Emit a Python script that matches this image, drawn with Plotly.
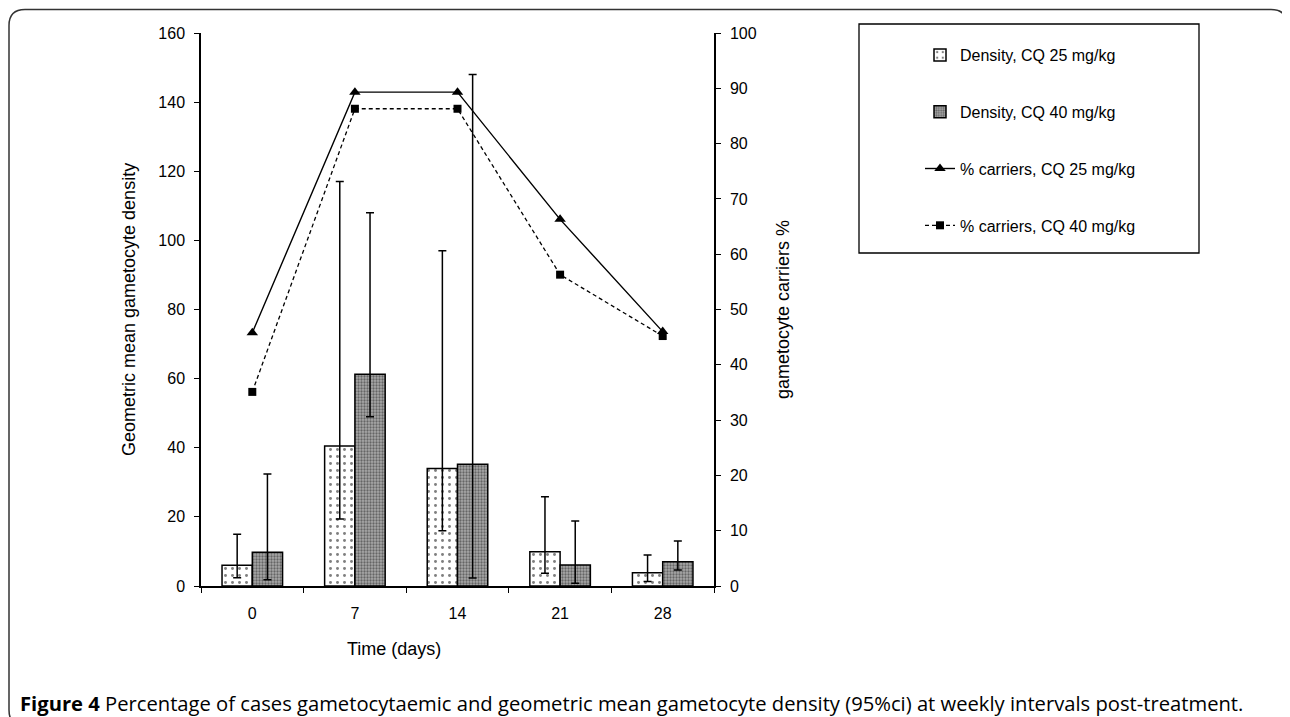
import plotly.graph_objects as go

# ---- data ----
days = ["0", "7", "14", "21", "28"]
density_25 = [6.0, 40.5, 34.0, 9.9, 3.8]
density_25_hi = [15.0, 117.0, 97.0, 25.8, 9.0]
density_25_lo = [2.4, 19.4, 16.0, 3.7, 1.3]
density_40 = [9.8, 61.3, 35.2, 6.1, 7.0]
density_40_hi = [32.4, 108.0, 148.0, 18.8, 13.0]
density_40_lo = [1.8, 49.0, 2.3, 0.8, 4.6]
carriers_25 = [45.8, 89.3, 89.3, 66.3, 46.0]
carriers_40 = [35.1, 86.3, 86.3, 56.3, 45.2]

# ---- geometry (picture pixels; page body has an 8px offset) ----
OFF = 8
W, H = 1290 - OFF, 717 - OFF
L, R, T, B = 201, 714, 33, 586
pw, ph = R - L, B - T

def px(x):
    return (x - L) / pw

def py(y):
    return (B - y) / ph

FONT = "Liberation Sans, Arial, sans-serif"

fig = go.Figure()

fig.add_trace(go.Bar(
    x=days, y=density_25, name="Density, CQ 25 mg/kg", legendgroup="a",
    marker=dict(color="white", line=dict(color="black", width=1.5),
                pattern=dict(shape=".", fgcolor="black", bgcolor="white",
                             size=7, solidity=0.14)),
    error_y=dict(type="data", symmetric=False,
                 array=[h - v for h, v in zip(density_25_hi, density_25)],
                 arrayminus=[v - l for v, l in zip(density_25, density_25_lo)],
                 color="black", thickness=1.5, width=4),
))
fig.add_trace(go.Bar(
    x=days, y=density_40, name="Density, CQ 40 mg/kg", legendgroup="b",
    marker=dict(color="#888888", line=dict(color="black", width=1.5),
                pattern=dict(shape=".", fgcolor="#222222", bgcolor="#a8a8a8",
                             size=3, solidity=0.45)),
    error_y=dict(type="data", symmetric=False,
                 array=[h - v for h, v in zip(density_40_hi, density_40)],
                 arrayminus=[v - l for v, l in zip(density_40, density_40_lo)],
                 color="black", thickness=1.5, width=4),
))
fig.add_trace(go.Scatter(
    x=days, y=carriers_25, name="% carriers, CQ 25 mg/kg", legendgroup="c",
    yaxis="y2", mode="lines+markers",
    line=dict(color="black", width=1.4),
    marker=dict(symbol="triangle-up", size=10, color="black"),
))
fig.add_trace(go.Scatter(
    x=days, y=carriers_40, name="% carriers, CQ 40 mg/kg", legendgroup="d",
    yaxis="y2", mode="lines+markers",
    line=dict(color="black", width=1.3, dash="4px,3px"),
    marker=dict(symbol="square", size=8, color="black"),
))

axis_common = dict(showgrid=False, zeroline=False, showline=True,
                   linecolor="black", linewidth=1.5, ticks="outside",
                   tickcolor="black", tickwidth=1.3, ticklen=5,
                   tickfont=dict(family=FONT, size=16, color="black"))

# frame (rounded rectangle)
x0, y0, x1, y1, r = 9, 9.5, 1287, 726, 16
frame = (f"M {px(x0 + r)},{py(y0)} L {px(x1 - r)},{py(y0)} "
         f"Q {px(x1)},{py(y0)} {px(x1)},{py(y0 + r)} "
         f"L {px(x1)},{py(y1 - r)} Q {px(x1)},{py(y1)} {px(x1 - r)},{py(y1)} "
         f"L {px(x0 + r)},{py(y1)} Q {px(x0)},{py(y1)} {px(x0)},{py(y1 - r)} "
         f"L {px(x0)},{py(y0 + r)} Q {px(x0)},{py(y0)} {px(x0 + r)},{py(y0)} Z")

fig.update_layout(
    width=W, height=H,
    margin=dict(l=L - OFF, r=W - (R - OFF), t=T - OFF, b=H - (B - OFF),
                autoexpand=False),
    paper_bgcolor="white", plot_bgcolor="white",
    barmode="group", bargap=0.41, bargroupgap=0,
    font=dict(family=FONT, size=16, color="black"),
    xaxis=dict(**axis_common, type="category", tickson="boundaries",
               ticklabelstandoff=12),
    yaxis=dict(**axis_common, range=[0, 160], dtick=20, ticklabelstandoff=6),
    yaxis2=dict(**axis_common, range=[0, 100], dtick=10, overlaying="y",
                side="right", anchor="x", ticklabelstandoff=6),
    legend=dict(x=px(920), y=py(38), xanchor="left", yanchor="top",
                bgcolor="rgba(0,0,0,0)", borderwidth=0,
                traceorder="grouped", tracegroupgap=33,
                font=dict(family=FONT, size=16, color="black")),
    shapes=[
        dict(type="rect", xref="paper", yref="paper",
             x0=px(859), x1=px(1199), y0=py(24), y1=py(253),
             line=dict(color="black", width=1.3), fillcolor="rgba(0,0,0,0)"),
        dict(type="path", xref="paper", yref="paper", path=frame,
             line=dict(color="#333333", width=1.5)),
    ],
    annotations=[
        dict(text="Geometric mean gametocyte density", xref="paper", yref="paper",
             x=px(117), y=py(310), textangle=-90, showarrow=False,
             font=dict(family=FONT, size=18, color="black")),
        dict(text="gametocyte carriers %", xref="paper", yref="paper",
             x=px(795), y=py(310), textangle=-90, showarrow=False,
             font=dict(family=FONT, size=18, color="black")),
        dict(text="Time (days)", xref="paper", yref="paper",
             x=px(394), y=py(661), showarrow=False,
             font=dict(family=FONT, size=18, color="black")),
        dict(text="<b>Figure 4</b> Percentage of cases gametocytaemic and geometric mean gametocyte density (95%ci) at weekly intervals post-treatment.",
             xref="paper", yref="paper", x=px(18), y=py(703),
             xanchor="left", yanchor="middle", showarrow=False,
             font=dict(family="Open Sans, sans-serif", size=20.2, color="black")),
    ],
)

fig.write_html("out.html")
